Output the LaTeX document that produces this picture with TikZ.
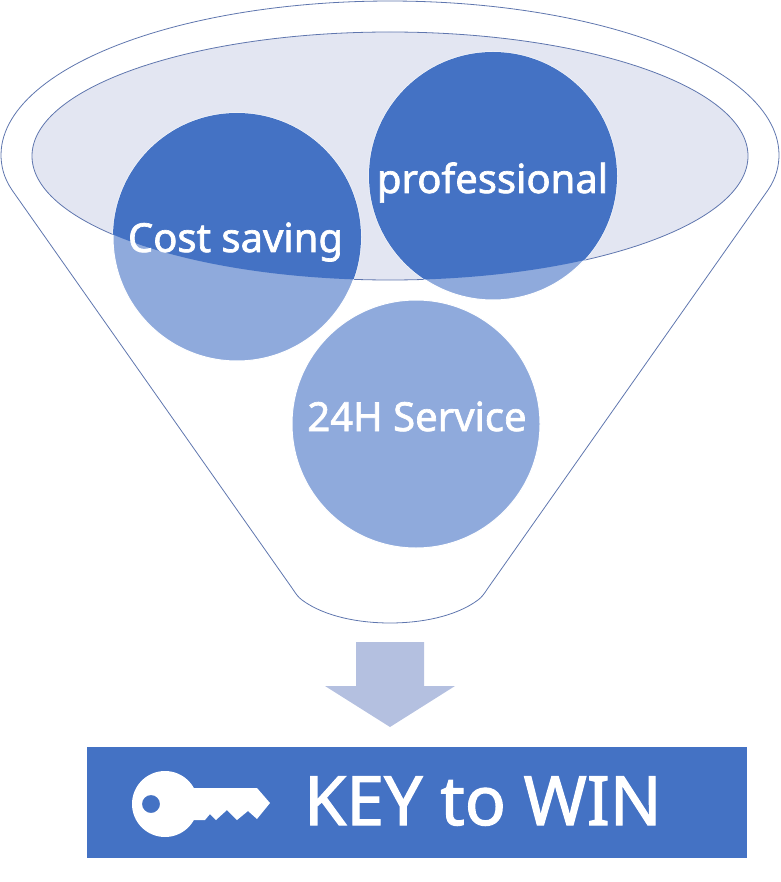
\documentclass[tikz,border=0pt]{standalone}
\usepackage{fontspec}
\setmainfont{Noto Sans}
\newfontfamily\medfont[FakeBold=1.7]{Noto Sans}
\definecolor{dkblue}{HTML}{4472C4}
\definecolor{ltblue}{HTML}{8FAADC}
\definecolor{ellfill}{HTML}{E3E6F2}
\definecolor{arrowfill}{HTML}{B4C0E0}
\definecolor{linecol}{HTML}{5F76AE}
\tikzset{
  funnelline/.style={draw=linecol,line width=0.8pt},
  bubbletext/.style={text=white,inner sep=0pt,anchor=base,font=\medfont\fontsize{40}{40}\selectfont},
  bannertext/.style={text=white,inner sep=0pt,anchor=base west,font=\medfont\fontsize{68}{68}\selectfont},
  ballring/.style={draw=white,line width=1pt}
}
\begin{document}
\begin{tikzpicture}[x=1pt,y=-1pt]
\useasboundingbox (0,0) rectangle (780,882);
% funnel
\draw[funnelline,line join=round]
  plot[domain=174:366,samples=120] ({390+389*cos(\x)},{155+154*sin(\x)})
  .. controls (775,178) and (772,184) .. (768,190)
  -- (488,588) .. controls (484,594) and (482,597) .. (478,600)
  .. controls (455,617) and (420,623) .. (390,623)
  .. controls (360,623) and (325,617) .. (302,600)
  .. controls (298,597) and (296,594) .. (292,588)
  -- (12,190) .. controls (8,184) and (5,178) .. cycle;
\path[funnelline,fill=ellfill] (390,156) ellipse [x radius=358pt,y radius=124pt];
% bubbles
\path[fill=ltblue,ballring] (416,424) circle [radius=124pt];
\path[fill=ltblue,ballring] (237,237) circle [radius=124pt];
\path[fill=ltblue,ballring] (493,176) circle [radius=124pt];
\begin{scope}
  \clip (390,156) ellipse [x radius=358pt,y radius=124pt];
  \fill[dkblue] (237,237) circle [radius=124pt];
  \fill[dkblue] (493,176) circle [radius=124pt];
\end{scope}
\node[bubbletext] (cost) at (235.5,252) {Cost saving};
\node[bubbletext] (prof) at (492.5,193) {professional};
\node[bubbletext] (serv) at (417,431) {24H Service};
% arrow
\fill[arrowfill] (356,642) -- (424,642) -- (424,686) -- (455,686) -- (390,727) -- (325,686) -- (356,686) -- cycle;
% banner
\fill[dkblue] (87,747) rectangle (747,858);
\node[bannertext] (win) at (304,825) {KEY to WIN};
% key
\fill[white,even odd rule] (165,804) circle [radius=33pt] (151,804) circle [radius=9pt];
\fill[white] (190,788) -- (257,788) -- (270,803) -- (257,819) -- (248,811) -- (237,820) -- (227,810) -- (216,820) -- (210,814) -- (205,820) -- (190,820) -- cycle;
\end{tikzpicture}
\end{document}
